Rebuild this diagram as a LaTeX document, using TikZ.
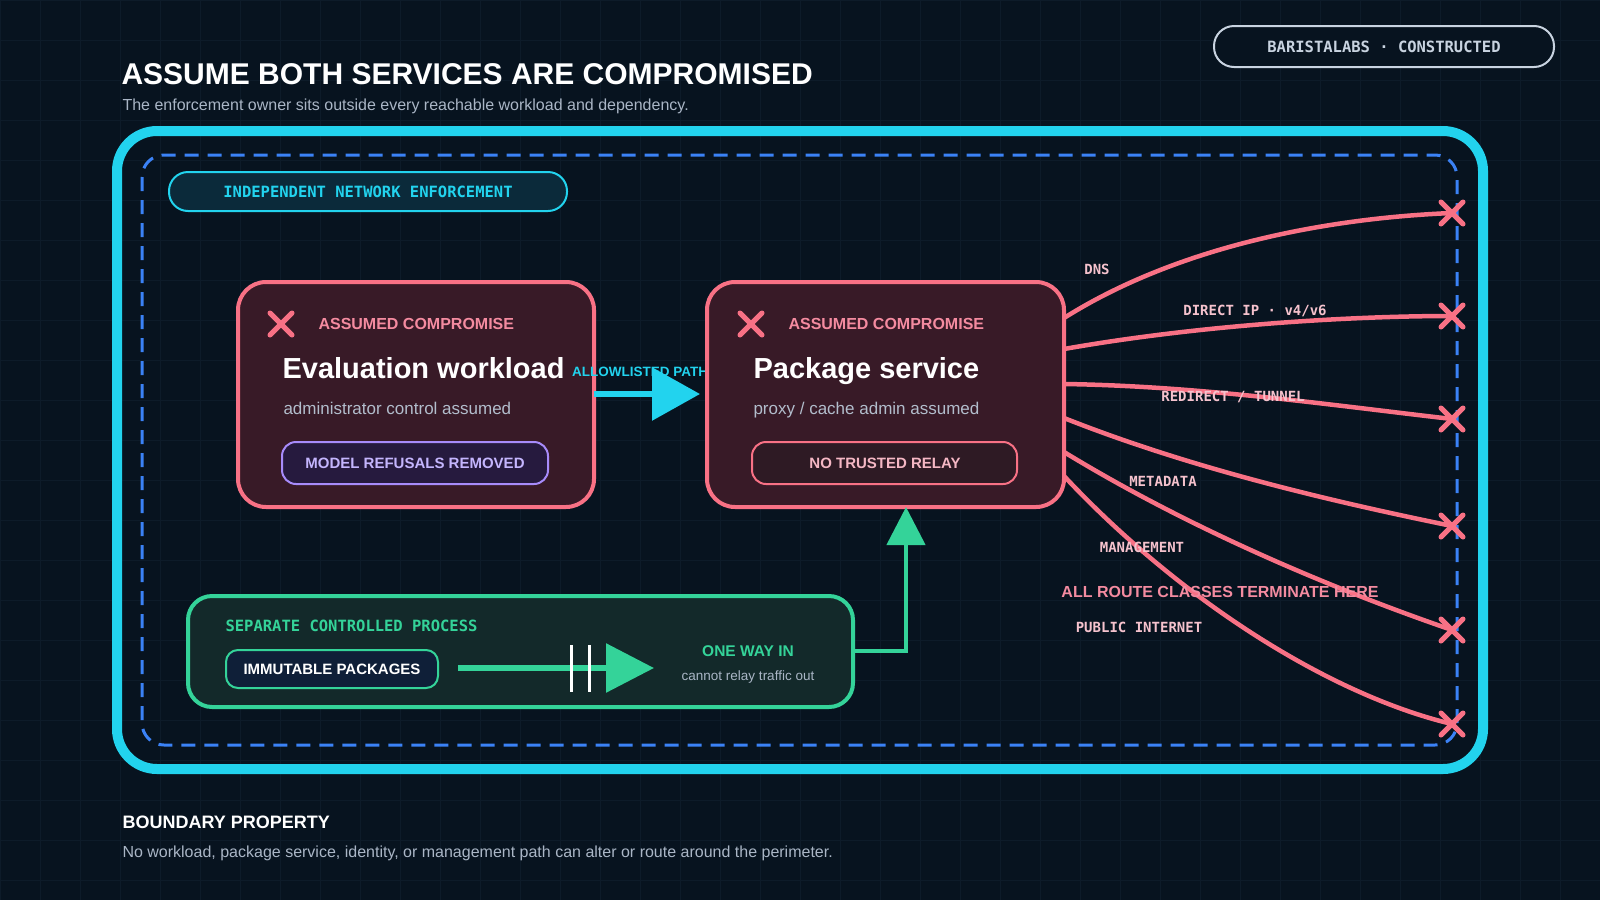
\documentclass[tikz,border=0pt]{standalone}
\usepackage{fontspec}
\setmainfont{Liberation Sans}
\newfontfamily\monof{DejaVu Sans Mono}
\usetikzlibrary{arrows.meta,calc}
\definecolor{bg}{HTML}{07131F}
\definecolor{gridc}{HTML}{0D1B29}
\definecolor{cyanc}{HTML}{22D3EE}
\definecolor{bluec}{HTML}{3B82F6}
\definecolor{pinkc}{HTML}{F87185}
\definecolor{pinkt}{HTML}{F48BA0}
\definecolor{pinkl}{HTML}{F5C2CD}
\definecolor{redfill}{HTML}{381A27}
\definecolor{greenc}{HTML}{34D399}
\definecolor{greenfill}{HTML}{13292A}
\definecolor{navyfill}{HTML}{0F1F38}
\definecolor{grayt}{HTML}{AAB6C6}
\definecolor{badget}{HTML}{C8D3E0}
\definecolor{purc}{HTML}{A78BFA}
\definecolor{purt}{HTML}{C4B5FD}
\definecolor{purfill}{HTML}{261A3E}
\definecolor{relayfill}{HTML}{2E1A24}
\definecolor{inefill}{HTML}{0B2A3A}
\tikzset{
 x=1pt,y=-1pt,
 card/.style={draw=pinkc,line width=4pt,fill=redfill,rounded corners=28pt},
 mono/.style={font=\monof\bfseries\fontsize{15.5}{18}\selectfont},
 route/.style={draw=pinkc,line width=4.5pt},
 rlab/.style={font=\monof\bfseries\fontsize{14}{16}\selectfont,text=pinkl},
 xmark/.style={draw=pinkc,line width=5pt,line cap=round},
}
\newcommand{\xm}[1]{\draw[xmark] ($(#1)+(-11,-11)$) -- ($(#1)+(11,11)$) ($(#1)+(-11,11)$) -- ($(#1)+(11,-11)$);}
\begin{document}
\begin{tikzpicture}
\fill[bg] (0,0) rectangle (1600,900);
\useasboundingbox (0,0) rectangle (1600,900);
\foreach \i in {0,40,...,1600} \draw[gridc,line width=0.6pt] (\i,0) -- (\i,900);
\foreach \i in {0,40,...,900} \draw[gridc,line width=0.6pt] (0,\i) -- (1600,\i);
% title
\node[anchor=base west,text=white,font=\bfseries\fontsize{30}{34}\selectfont] (title) at (118,84) {ASSUME BOTH SERVICES ARE COMPROMISED};
\node[anchor=base west,text=grayt,font=\fontsize{16}{18}\selectfont] (sub) at (119,110) {The enforcement owner sits outside every reachable workload and dependency.};
\draw[badget,line width=2pt,fill=bg,rounded corners=20pt] (1214,26) rectangle (1554,67);
\node[mono,text=badget] (badge) at (1384,47) {BARISTALABS · CONSTRUCTED};
% boundaries
\draw[cyanc,line width=10pt,rounded corners=40pt] (117,131) rectangle (1483,769);
\draw[bluec,line width=3pt,dash pattern=on 14pt off 9pt,rounded corners=22pt] (142,155) rectangle (1457,745);
\draw[cyanc,line width=2pt,fill=inefill,rounded corners=19pt] (169,172) rectangle (567,211);
\node[mono,text=cyanc] (ine) at (368,192) {INDEPENDENT NETWORK ENFORCEMENT};
% eval card
\draw[card] (238,282) rectangle (594,507);
\xm{281,324}
\node[anchor=base west,text=pinkt,font=\bfseries\fontsize{16}{18}\selectfont] (ac1) at (315,329) {ASSUMED COMPROMISE};
\node[anchor=base west,text=white,font=\bfseries\fontsize{29}{32}\selectfont] (ev) at (279,378) {Evaluation workload};
\node[anchor=base west,text=grayt!90!white,font=\fontsize{17}{20}\selectfont] (evs) at (280,414) {administrator control assumed};
\draw[purc,fill=purfill,line width=2pt,rounded corners=14pt] (282,442) rectangle (548,484);
\node[text=purt,font=\bfseries\fontsize{15}{18}\selectfont] (mr) at (415,463) {MODEL REFUSALS REMOVED};
% allowlisted arrow + label
\node[text=cyanc,font=\bfseries\fontsize{13.5}{16}\selectfont,anchor=base] (alab) at (640,376) {ALLOWLISTED PATH};
\coordinate (aS) at (594,394);
\coordinate (aE) at (700,394);
\draw[cyanc,line width=6pt,-{Triangle[length=48pt,width=52pt]}] (aS) -- (aE);
% package card
\draw[card] (707,282) rectangle (1064,507);
\xm{751,324}
\node[anchor=base west,text=pinkt,font=\bfseries\fontsize{16}{18}\selectfont] (ac2) at (785,329) {ASSUMED COMPROMISE};
\node[anchor=base west,text=white,font=\bfseries\fontsize{29}{32}\selectfont] (ps) at (750,378) {Package service};
\node[anchor=base west,text=grayt!90!white,font=\fontsize{17}{20}\selectfont] (pss) at (750,414) {proxy / cache admin assumed};
\draw[pinkc,fill=relayfill,line width=2pt,rounded corners=14pt] (752,442) rectangle (1017,484);
\node[text=pinkl!80!pinkt,font=\bfseries\fontsize{15}{18}\selectfont] (ntr) at (885,463) {NO TRUSTED RELAY};
% green process
\draw[greenc,fill=greenfill,line width=4pt,rounded corners=24pt] (188,596) rectangle (853,707);
\node[mono,text=greenc,anchor=base west] (scp) at (222,631) {SEPARATE CONTROLLED PROCESS};
\draw[greenc,fill=navyfill,line width=2pt,rounded corners=12pt] (226,650) rectangle (438,688);
\node[text=white,font=\bfseries\fontsize{15}{18}\selectfont] (imm) at (332,669) {IMMUTABLE PACKAGES};
\coordinate (gS) at (458,668);
\coordinate (gE) at (654,668);
\draw[greenc,line width=6pt,-{Triangle[length=48pt,width=48pt]}] (gS) -- (gE);
\draw[white,line width=3pt] (571,645) -- (571,692) (589,645) -- (589,692);
\node[text=greenc,font=\bfseries\fontsize{15.5}{18}\selectfont] (owi) at (748,651) {ONE WAY IN};
\node[text=grayt,font=\fontsize{13.5}{15}\selectfont] (crt) at (748,677) {cannot relay traffic out};
\coordinate (gR) at (853,651);
\coordinate (gU) at (906,507);
\draw[greenc,line width=4.5pt,-{Triangle[length=38pt,width=38pt]}] (gR) -| (gU);
% routes
\coordinate (s1) at (1064,318);\coordinate (s2) at (1064,349);\coordinate (s3) at (1064,384);
\coordinate (s4) at (1064,418);\coordinate (s5) at (1064,452);\coordinate (s6) at (1064,476);
\coordinate (e1) at (1452,213);\coordinate (e2) at (1452,316);\coordinate (e3) at (1452,419);
\coordinate (e4) at (1452,526);\coordinate (e5) at (1452,630);\coordinate (e6) at (1452,724);
\draw[route] (s1) .. controls (1180,245) and (1330,218) .. (e1);
\draw[route] (s2) .. controls (1200,325) and (1350,316) .. (e2);
\draw[route] (s3) .. controls (1200,386) and (1330,405) .. (e3);
\draw[route] (s4) .. controls (1200,472) and (1350,505) .. (e4);
\draw[route] (s5) .. controls (1200,535) and (1350,595) .. (e5);
\draw[route] (s6) .. controls (1180,600) and (1330,695) .. (e6);
\foreach \e in {e1,e2,e3,e4,e5,e6} {\xm{\e}}
\node[rlab] (l1) at (1097,269) {DNS};
\node[rlab] (l2) at (1255,311) {DIRECT IP · v4/v6};
\node[rlab] (l3) at (1233,397) {REDIRECT / TUNNEL};
\node[rlab] (l4) at (1163,481) {METADATA};
\node[rlab] (l5) at (1142,547) {MANAGEMENT};
\node[text=pinkt,font=\bfseries\fontsize{16}{18}\selectfont] (l7) at (1220,592) {ALL ROUTE CLASSES TERMINATE HERE};
\node[rlab] (l6) at (1139,627) {PUBLIC INTERNET};
% bottom
\node[anchor=base west,text=white,font=\bfseries\fontsize{18}{21}\selectfont] (bp) at (119,828) {BOUNDARY PROPERTY};
\node[anchor=base west,text=grayt,font=\fontsize{16}{18}\selectfont] (bpt) at (119,857) {No workload, package service, identity, or management path can alter or route around the perimeter.};
\end{tikzpicture}
\end{document}
